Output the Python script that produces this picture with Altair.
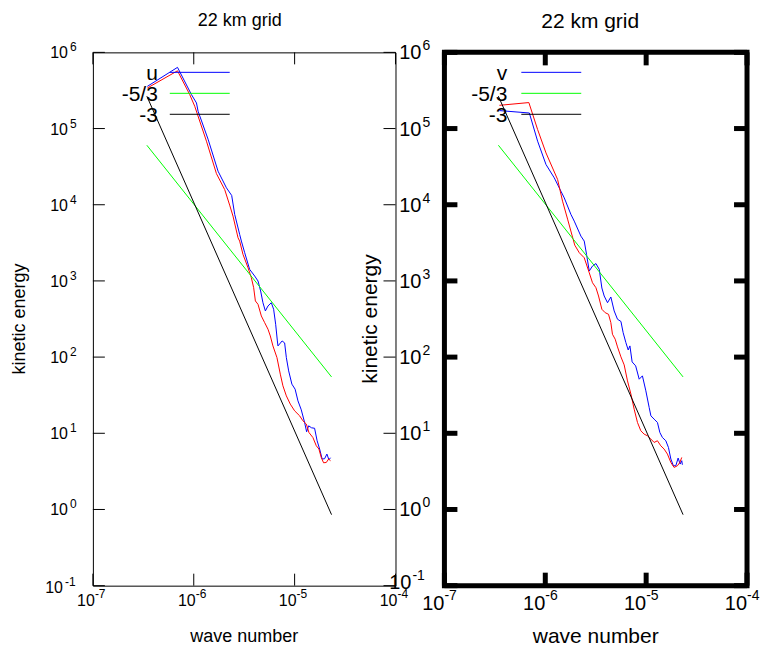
import altair as alt
import numpy as np
import pandas as pd

# ---------------- data (log10 values) ----------------
left_blue_logk = [-6.46, -6.161, -6.023, -5.973, -5.957, -5.858, -5.759, -5.676, -5.624, -5.594,
                  -5.545, -5.528, -5.495, -5.446, -5.396, -5.363, -5.337, -5.314, -5.290, -5.264,
                  -5.231, -5.208, -5.188, -5.171, -5.165, -5.124, -5.099, -5.082, -5.059, -5.027,
                  -4.995, -4.967, -4.934, -4.901, -4.881, -4.861, -4.832, -4.802, -4.777, -4.752,
                  -4.727, -4.703, -4.680, -4.660, -4.644]
left_blue_logE = [5.554, 5.803, 5.446, 5.336, 5.227, 4.860, 4.440, 4.222, 4.122, 3.873,
                  3.611, 3.523, 3.370, 3.152, 3.064, 2.999, 2.868, 2.714, 2.606, 2.671,
                  2.714, 2.628, 2.431, 2.212, 2.147, 2.212, 2.186, 1.993, 1.819, 1.645,
                  1.579, 1.426, 1.308, 1.142, 1.020, 1.098, 1.072, 1.066, 0.902, 0.793,
                  0.662, 0.666, 0.727, 0.653, 0.679]

left_red_logk = [-6.46, -6.161, -6.040, -5.990, -5.874, -5.775, -5.693, -5.644, -5.611, -5.561,
                 -5.545, -5.512, -5.462, -5.429, -5.406, -5.389, -5.363, -5.330, -5.297, -5.264,
                 -5.241, -5.215, -5.175, -5.142, -5.116, -5.082, -5.043, -5.000, -4.950, -4.918,
                 -4.884, -4.858, -4.819, -4.785, -4.759, -4.736, -4.713, -4.686, -4.663, -4.644]
left_red_logE = [5.532, 5.758, 5.446, 5.292, 4.834, 4.408, 4.198, 3.995, 3.851, 3.566,
                 3.523, 3.349, 3.173, 3.042, 2.911, 2.737, 2.693, 2.540, 2.452, 2.366,
                 2.278, 2.147, 1.993, 1.776, 1.623, 1.491, 1.383, 1.295, 1.229, 1.164,
                 1.121, 1.010, 0.945, 0.836, 0.793, 0.683, 0.613, 0.617, 0.662, 0.640]

right_blue_logk = [-6.455, -6.158, -6.076, -5.993, -5.911, -5.845, -5.812, -5.746, -5.713, -5.647,
                   -5.614, -5.591, -5.564, -5.532, -5.498, -5.465, -5.439, -5.416, -5.383, -5.350,
                   -5.317, -5.284, -5.250, -5.228, -5.201, -5.178, -5.161, -5.139, -5.104, -5.069,
                   -5.037, -5.003, -4.970, -4.953, -4.921, -4.888, -4.864, -4.839, -4.805, -4.779,
                   -4.755, -4.730, -4.706, -4.683, -4.663, -4.647, -4.641]
right_blue_logE = [5.236, 5.204, 4.834, 4.528, 4.353, 4.178, 4.090, 3.873, 3.785, 3.588,
                   3.523, 3.349, 3.130, 3.195, 3.228, 3.152, 2.907, 2.802, 2.714, 2.789,
                   2.606, 2.497, 2.468, 2.321, 2.190, 2.094, 2.147, 1.937, 1.885, 1.710,
                   1.754, 1.557, 1.338, 1.229, 1.186, 1.142, 1.010, 0.945, 0.902, 0.814,
                   0.662, 0.574, 0.574, 0.675, 0.596, 0.640, 0.587]

right_red_logk = [-6.455, -6.163, -6.076, -5.993, -5.878, -5.829, -5.779, -5.708, -5.663, -5.614,
                  -5.564, -5.532, -5.498, -5.472, -5.439, -5.406, -5.373, -5.350, -5.334, -5.307,
                  -5.284, -5.250, -5.218, -5.185, -5.151, -5.119, -5.086, -5.053, -5.020, -4.987,
                  -4.953, -4.921, -4.888, -4.855, -4.822, -4.789, -4.755, -4.723, -4.690, -4.666,
                  -4.647]
right_red_logE = [5.305, 5.341, 4.987, 4.680, 4.332, 4.047, 3.811, 3.470, 3.370, 3.304,
                  3.107, 2.976, 2.911, 2.802, 2.628, 2.583, 2.562, 2.452, 2.300, 2.235,
                  2.134, 2.003, 1.898, 1.688, 1.514, 1.317, 1.142, 1.033, 0.989, 0.967,
                  0.924, 0.880, 0.902, 0.836, 0.793, 0.727, 0.617, 0.552, 0.574, 0.617,
                  0.683]

# reference slopes (-5/3 and -3), endpoints
ref_logk = [-6.465, -4.634]
ref53_logE = [4.781, 1.740]
ref3_logE = [5.425, -0.068]

x_ticks = [1e-7, 1e-6, 1e-5, 1e-4]
x_tick_exp = ["-7", "-6", "-5", "-4"]
y_ticks = [1e6, 1e5, 1e4, 1e3, 1e2, 1e1, 1e0, 1e-1]
y_tick_exp = ["6", "5", "4", "3", "2", "1", "0", "-1"]
tick_base = "10"

panel_title = "22 km grid"
x_title = "wave number"
y_title = "kinetic energy"
legend_labels_left = ["u", "-5/3", "-3"]
legend_labels_right = ["v", "-5/3", "-3"]
legend_colors = ["#0000ff", "#00ff00", "#000000"]

FONT = "Liberation Sans"
W, H = 303, 534


def curve(logk, logE):
    return pd.DataFrame({"k": 10 ** np.array(logk), "E": 10 ** np.array(logE)})


xs = alt.Scale(type="log", domain=[1e-7, 1e-4], nice=False)
ys = alt.Scale(type="log", domain=[1e-1, 1e6], nice=False)


def panel(blue, red, legend_labels, st):
    X = alt.X("k:Q", scale=xs, axis=None)
    Y = alt.Y("E:Q", scale=ys, axis=None)
    layers = []
    for df, col in [(blue, "#0000ff"), (red, "#ff0000"),
                    (curve(ref_logk, ref53_logE), "#00ff00"),
                    (curve(ref_logk, ref3_logE), "#000000")]:
        layers.append(alt.Chart(df).mark_line(color=col, strokeWidth=1).encode(x=X, y=Y))

    # inward ticks
    yt = pd.DataFrame({"v": y_ticks, "base": tick_base, "exp": y_tick_exp})
    xt = pd.DataFrame({"v": x_ticks, "base": tick_base, "exp": x_tick_exp})
    tw, tl = st["tick_w"], st["tick_len"]
    YV = alt.Y("v:Q", scale=ys, axis=None)
    XV = alt.X("v:Q", scale=xs, axis=None)
    layers.append(alt.Chart(yt).mark_rule(color="black", strokeWidth=tw).encode(
        y=YV, x=alt.value(0), x2=alt.value(tl)))
    layers.append(alt.Chart(yt).mark_rule(color="black", strokeWidth=tw).encode(
        y=YV, x=alt.value(W - tl), x2=alt.value(W)))
    layers.append(alt.Chart(xt).mark_rule(color="black", strokeWidth=tw).encode(
        x=XV, y=alt.value(0), y2=alt.value(tl)))
    layers.append(alt.Chart(xt).mark_rule(color="black", strokeWidth=tw).encode(
        x=XV, y=alt.value(H - tl), y2=alt.value(H)))

    # y tick labels (10 + raised exponent)
    pos = alt.Chart(yt).transform_filter("datum.v >= 1")
    neg = alt.Chart(yt).transform_filter("datum.v < 1")
    for ch, bx, ex, dy in [(pos, st["yb"], st["ye"], st["y_dy"]),
                           (neg, st["yb_neg"], st["ye_neg"], st["y_dy_neg"])]:
        layers.append(ch.mark_text(font=FONT, fontSize=st["tf"], align="right", baseline="middle",
                                   dy=dy).encode(y=YV, x=alt.value(bx), text="base:N"))
        layers.append(ch.mark_text(font=FONT, fontSize=st["ef"], align="left", baseline="middle",
                                   dy=dy - st["rise"]).encode(y=YV, x=alt.value(ex), text="exp:N"))
    # x tick labels
    layers.append(alt.Chart(xt).mark_text(font=FONT, fontSize=st["tf"], align="right", baseline="middle",
                                          dx=st["xdx"]).encode(x=XV, y=alt.value(H + st["xb"]), text="base:N"))
    layers.append(alt.Chart(xt).mark_text(font=FONT, fontSize=st["ef"], align="left", baseline="middle",
                                          dx=st["xdx"]).encode(x=XV, y=alt.value(H + st["xe"]), text="exp:N"))

    # titles
    t = pd.DataFrame({"t": [panel_title], "xt": [x_title], "yt": [y_title]})
    layers.append(alt.Chart(t).mark_text(font=FONT, fontSize=st["titf"], align="center", baseline="middle").encode(
        x=alt.value(st["title_x"]), y=alt.value(st["title_y"]), text="t:N"))
    layers.append(alt.Chart(t).mark_text(font=FONT, fontSize=st["axf"], align="center", baseline="middle").encode(
        x=alt.value(W / 2), y=alt.value(H + 51), text="xt:N"))
    layers.append(alt.Chart(t).mark_text(font=FONT, fontSize=st["axf"], align="center", baseline="middle",
                                         angle=270).encode(
        x=alt.value(st["ytitle_x"]), y=alt.value(H / 2), text="yt:N"))

    # legend
    for i, (lab, col) in enumerate(zip(legend_labels, legend_colors)):
        ly = 20 + 21 * i
        ld = pd.DataFrame({"lab": [lab]})
        layers.append(alt.Chart(ld).mark_rule(color=col, strokeWidth=1).encode(
            x=alt.value(77), x2=alt.value(137), y=alt.value(ly)))
        layers.append(alt.Chart(ld).mark_text(font=FONT, fontSize=21, align="right",
                                              baseline="alphabetic").encode(
            x=alt.value(st["leg_x"]), y=alt.value(ly + 8), text="lab:N"))

    return alt.layer(*layers).properties(
        width=W, height=H,
        view=alt.ViewBackground(stroke="black", strokeWidth=st["frame"], fill="white"),
    )


left_style = dict(tick_w=1, tick_len=12, frame=1, tf=16, ef=12, rise=6, y_dy=1, y_dy_neg=2,
                  yb=-25, ye=-23, yb_neg=-30, ye_neg=-28, xb=15, xe=8, xdx=2,
                  titf=18, axf=18, title_x=147, title_y=-31, ytitle_x=-73, leg_x=65)
right_style = dict(tick_w=5, tick_len=13, frame=5, tf=20, ef=14, rise=7, y_dy=1, y_dy_neg=-3,
                   yb=-23, ye=-22, yb_neg=-33, ye_neg=-32, xb=18, xe=10, xdx=0,
                   titf=21, axf=21, title_x=146, title_y=-30, ytitle_x=-74, leg_x=63)

left = panel(curve(left_blue_logk, left_blue_logE), curve(left_red_logk, left_red_logE),
             legend_labels_left, left_style)
right = panel(curve(right_blue_logk, right_blue_logE), curve(right_red_logk, right_red_logE),
              legend_labels_right, right_style)

chart = alt.hconcat(left, right, spacing=49, bounds="flush").properties(
    padding={"left": 2, "top": 0, "right": 0, "bottom": 0},
    background="white",
)

chart.save("out.html", embed_options={"renderer": "svg", "actions": False})
